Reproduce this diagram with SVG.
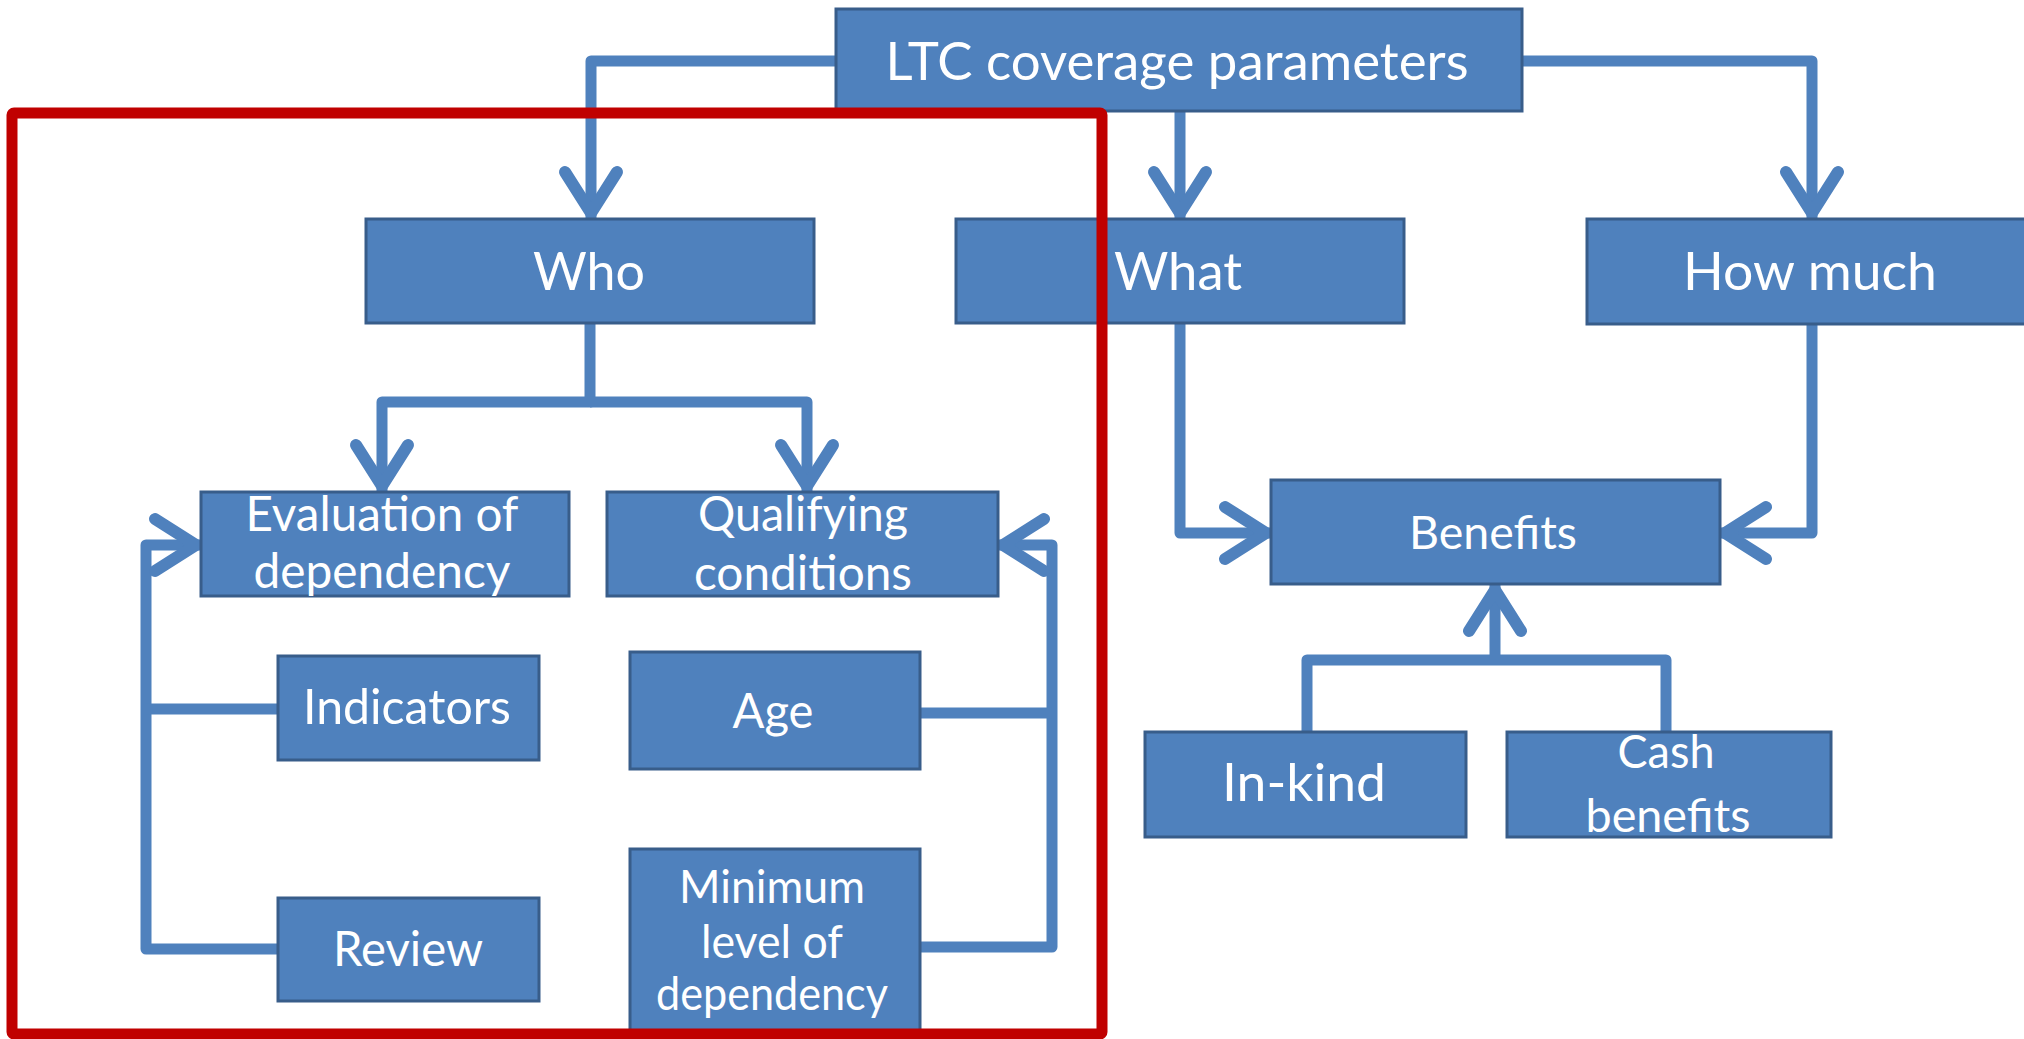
<svg xmlns="http://www.w3.org/2000/svg" width="2024" height="1039" viewBox="0 0 2024 1039">
  <style>
    .box { fill: #4F81BD; stroke: #385D8A; stroke-width: 3; }
    .t { font-family: Lato, "Open Sans", "Liberation Sans", sans-serif; fill: #FFFFFF; text-anchor: middle; }
    .big { font-size: 53px; }
    .mid { font-size: 48px; }
    .sm { font-size: 46px; }
    .con { fill: none; stroke: #4F81BD; stroke-width: 11; stroke-linejoin: round; stroke-linecap: butt; }
    .frame { fill: none; stroke: #C00000; stroke-width: 11; }
  </style>
  <defs>
    <marker id="chev" markerUnits="userSpaceOnUse" viewBox="-60 -35 70 70" markerWidth="70" markerHeight="70" refX="0" refY="0" orient="auto" overflow="visible">
      <path d="M-46,-26 L-5,0 L-46,26" fill="none" stroke="#4F81BD" stroke-width="12" stroke-linecap="round" stroke-linejoin="round"/>
    </marker>
  </defs>
  <rect width="2024" height="1039" fill="#FFFFFF"/>

  <g id="connectors">
    <path class="con" d="M836,61 H591 V218" marker-end="url(#chev)"/>
    <path class="con" d="M1180,110 V218" marker-end="url(#chev)"/>
    <path class="con" d="M1522,61 H1812 V218" marker-end="url(#chev)"/>
    <path class="con" d="M590,323 V402 H382 V491" marker-end="url(#chev)"/>
    <path class="con" d="M590,402 H807 V491" marker-end="url(#chev)"/>
    <path class="con" d="M278,949 H146 V545 H201" marker-end="url(#chev)"/>
    <path class="con" d="M278,709 H146"/>
    <path class="con" d="M920,947 H1052 V545 H998" marker-end="url(#chev)"/>
    <path class="con" d="M920,713 H1052"/>
    <path class="con" d="M1180,323 V533 H1271" marker-end="url(#chev)"/>
    <path class="con" d="M1812,324 V533 H1720" marker-end="url(#chev)"/>
    <path class="con" d="M1307,732 V660 H1666 V732"/>
    <path class="con" d="M1495,660 V585" marker-end="url(#chev)"/>
  </g>

  <g id="node-ltc">
    <rect class="box" x="836" y="9" width="686" height="102"/>
    <text class="t big" x="1177" y="80" textLength="583" lengthAdjust="spacingAndGlyphs">LTC coverage parameters</text>
  </g>
  <g id="node-who">
    <rect class="box" x="366" y="219" width="448" height="104"/>
    <text class="t big" x="589" y="290" textLength="112" lengthAdjust="spacingAndGlyphs">Who</text>
  </g>
  <g id="node-what">
    <rect class="box" x="956" y="219" width="448" height="104"/>
    <text class="t big" x="1178" y="290" textLength="128" lengthAdjust="spacingAndGlyphs">What</text>
  </g>
  <g id="node-howmuch">
    <rect class="box" x="1587" y="219" width="460" height="105"/>
    <text class="t big" x="1810" y="290" textLength="254" lengthAdjust="spacingAndGlyphs">How much</text>
  </g>
  <g id="node-evaluation">
    <rect class="box" x="201" y="492" width="368" height="104"/>
    <text class="t mid" x="382" y="531" textLength="273" lengthAdjust="spacingAndGlyphs">Evaluation of</text>
    <text class="t mid" x="382" y="588" textLength="257" lengthAdjust="spacingAndGlyphs">dependency</text>
  </g>
  <g id="node-qualifying">
    <rect class="box" x="607" y="492" width="391" height="104"/>
    <text class="t mid" x="803" y="531" textLength="210" lengthAdjust="spacingAndGlyphs">Qualifying</text>
    <text class="t mid" x="803" y="590" textLength="218" lengthAdjust="spacingAndGlyphs">conditions</text>
  </g>
  <g id="node-indicators">
    <rect class="box" x="278" y="656" width="261" height="104"/>
    <text class="t mid" x="407" y="724" textLength="208" lengthAdjust="spacingAndGlyphs">Indicators</text>
  </g>
  <g id="node-age">
    <rect class="box" x="630" y="652" width="290" height="117"/>
    <text class="t mid" x="773" y="728" textLength="81" lengthAdjust="spacingAndGlyphs">Age</text>
  </g>
  <g id="node-review">
    <rect class="box" x="278" y="898" width="261" height="103"/>
    <text class="t mid" x="408" y="966" textLength="150" lengthAdjust="spacingAndGlyphs">Review</text>
  </g>
  <g id="node-minimum">
    <rect class="box" x="630" y="849" width="290" height="200"/>
    <text class="t sm" x="772" y="903" textLength="186" lengthAdjust="spacingAndGlyphs">Minimum</text>
    <text class="t sm" x="772" y="958" textLength="142" lengthAdjust="spacingAndGlyphs">level of</text>
    <text class="t sm" x="772" y="1010" textLength="232" lengthAdjust="spacingAndGlyphs">dependency</text>
  </g>
  <g id="node-benefits">
    <rect class="box" x="1271" y="480" width="449" height="104"/>
    <text class="t sm" x="1493" y="549" textLength="168" lengthAdjust="spacingAndGlyphs">Benefits</text>
  </g>
  <g id="node-inkind">
    <rect class="box" x="1145" y="732" width="321" height="105"/>
    <text class="t big" x="1304" y="801" textLength="164" lengthAdjust="spacingAndGlyphs">In-kind</text>
  </g>
  <g id="node-cash">
    <rect class="box" x="1507" y="732" width="324" height="105"/>
    <text class="t sm" x="1666" y="768" textLength="97" lengthAdjust="spacingAndGlyphs">Cash</text>
    <text class="t sm" x="1668" y="832" textLength="165" lengthAdjust="spacingAndGlyphs">benefits</text>
  </g>

  <g id="highlight">
    <rect class="frame" x="12" y="113" width="1090" height="921" rx="2"/>
  </g>
</svg>
